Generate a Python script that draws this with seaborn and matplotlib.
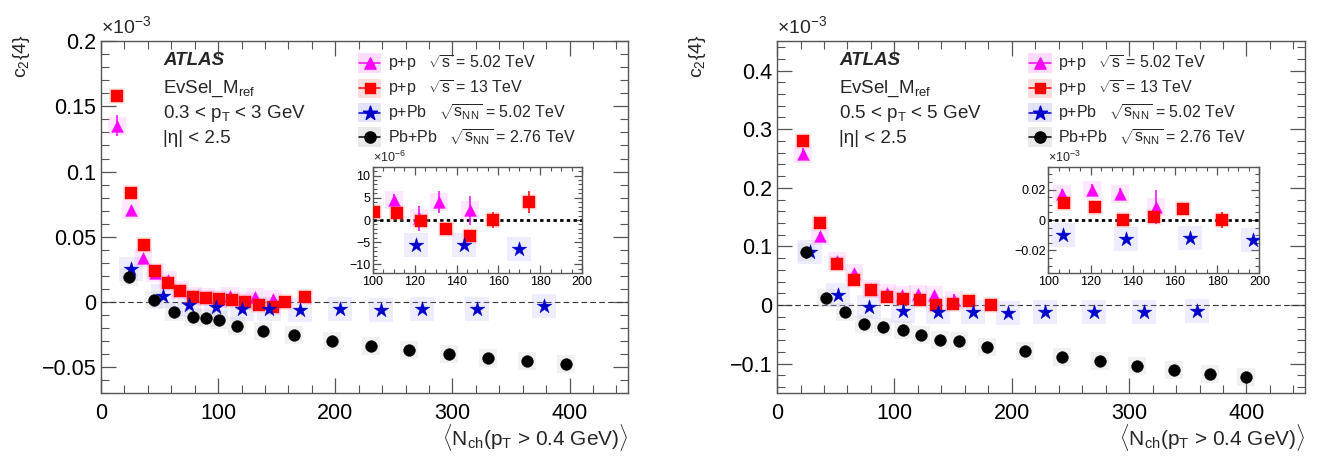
import numpy as np
import pandas as pd
import matplotlib
matplotlib.use("Agg")
import matplotlib.pyplot as plt
import seaborn as sns
from matplotlib.ticker import MultipleLocator, FuncFormatter
from matplotlib.patches import Rectangle

# ---------------------------------------------------------------- data
# c2{4} (units of 1e-3) versus <Nch(pT > 0.4 GeV)>

# 0.3 < pT < 3 GeV
pp5_L_x = [14, 25.5, 35.5, 46.5, 57, 67.5, 78.5, 89.5, 99.5, 110, 122, 131.5, 146.5]
pp5_L_y = [0.135, 0.0705, 0.0333, 0.022, 0.017, 0.009, 0.0045, 0.0035, 0.0022,
           0.0044, 0.0004, 0.0041, 0.0022]
pp5_L_e = [0.008, 0.003, 0.002, 0.0012, 0.001, 0.0008, 0.0006, 0.0006, 0.0012,
           0.0015, 0.0028, 0.0025, 0.0033]

pp13_L_x = [14, 25.5, 36.5, 46.5, 57, 67.5, 78.5, 89.5, 100.5, 111.5, 123, 135,
            146.5, 157.5, 174.5]
pp13_L_y = [0.158, 0.0835, 0.0435, 0.0237, 0.0148, 0.0082, 0.0036, 0.0032, 0.00185,
            0.0015, -0.0002, -0.0021, -0.0036, 0.0001, 0.0041]
pp13_L_e = [0.002, 0.0015, 0.001, 0.0008, 0.0006, 0.0005, 0.0005, 0.0005, 0.0008,
            0.0008, 0.0012, 0.001, 0.0012, 0.0018, 0.0025]

pPb_L_x = [25.5, 53, 75.5, 98.5, 120.5, 143.5, 170, 204, 239, 274, 321, 378]
pPb_L_y = [0.0253, 0.0045, -0.0026, -0.0036, -0.0056, -0.0056, -0.0065, -0.0056,
           -0.006, -0.0057, -0.0057, -0.0031]

PbPb_L_x = [23.5, 45.5, 62, 78.5, 89.5, 100.5, 116, 138.5, 164.5, 197.5, 230.5,
            263, 297, 330, 363.5, 397]
PbPb_L_y = [0.0188, 0.0018, -0.0079, -0.0117, -0.0125, -0.0143, -0.0184, -0.0222,
            -0.0256, -0.0299, -0.0335, -0.0371, -0.0402, -0.0428, -0.0454, -0.0479]

# 0.5 < pT < 5 GeV
pp5_R_x = [22, 37, 51.5, 66, 80, 93.5, 106.5, 120.5, 134, 151]
pp5_R_y = [0.258, 0.118, 0.076, 0.055, 0.027, 0.021, 0.0174, 0.0196, 0.0169, 0.0086]
pp5_R_e = [0.01, 0.006, 0.004, 0.005, 0.004, 0.003, 0.003, 0.004, 0.004, 0.011]

pp13_R_x = [22, 37, 51.5, 66, 80, 93.5, 107.5, 122, 135.5, 150, 164, 182.5]
pp13_R_y = [0.279, 0.140, 0.070, 0.043, 0.0255, 0.014, 0.011, 0.0085, 0.0, 0.002,
            0.0075, 0.0]
pp13_R_e = [0.004, 0.003, 0.002, 0.002, 0.002, 0.002, 0.002, 0.002, 0.002, 0.003,
            0.003, 0.005]

pPb_R_x = [28, 52, 78, 107, 137, 167, 197, 228, 270, 313, 358]
pPb_R_y = [0.090, 0.017, -0.004, -0.010, -0.0123, -0.012, -0.0134, -0.012, -0.011,
           -0.011, -0.010]

PbPb_R_x = [24.5, 41.5, 58, 74.5, 90.5, 107, 123, 139, 155, 179, 211, 243, 275,
            307, 338, 369, 400]
PbPb_R_y = [0.091, 0.012, -0.012, -0.033, -0.038, -0.042, -0.051, -0.059, -0.062,
            -0.072, -0.079, -0.089, -0.096, -0.103, -0.111, -0.117, -0.122]

legend_labels = {
    "pp5": r"p+p   $\sqrt{\rm s}$ = 5.02 TeV",
    "pp13": r"p+p   $\sqrt{\rm s}$ = 13 TeV",
    "pPb": r"p+Pb   $\sqrt{{\rm s}_{\rm NN}}$ = 5.02 TeV",
    "PbPb": r"Pb+Pb   $\sqrt{{\rm s}_{\rm NN}}$ = 2.76 TeV",
}

# ---------------------------------------------------------------- style
sns.set_theme(style="ticks")
plt.rcParams["font.family"] = ["Liberation Sans", "DejaVu Sans"]
plt.rcParams["mathtext.fontset"] = "custom"
plt.rcParams["mathtext.rm"] = "Liberation Sans"
plt.rcParams["mathtext.it"] = "Liberation Sans:italic"
plt.rcParams["mathtext.bf"] = "Liberation Sans:bold"
plt.rcParams["axes.unicode_minus"] = True

styles = {
    "pp5": dict(marker="^", color="#ff00ff", s=72, halo="#ff99ff"),
    "pp13": dict(marker="s", color="#ff0000", s=64, halo="#ffa0a0"),
    "pPb": dict(marker="*", color="#0000cc", s=125, halo="#b0b0ff"),
    "PbPb": dict(marker="o", color="#000000", s=72, halo="#c0c0c0"),
}
order = ["pp5", "pp13", "pPb", "PbPb"]


def num_fmt(v, pos):
    s = f"{v:.10g}"
    if s in ("-0", "0"):
        return "0"
    return s.replace("-", "\u2212")


def style_axes(ax, xmaj, xmin, ymaj, ymin, size, lmaj, lmin):
    ax.xaxis.set_major_locator(MultipleLocator(xmaj))
    ax.xaxis.set_minor_locator(MultipleLocator(xmin))
    ax.yaxis.set_major_locator(MultipleLocator(ymaj))
    ax.yaxis.set_minor_locator(MultipleLocator(ymin))
    ax.xaxis.set_major_formatter(FuncFormatter(num_fmt))
    ax.yaxis.set_major_formatter(FuncFormatter(num_fmt))
    ax.tick_params(which="both", direction="in", top=True, right=True,
                   colors="#555555", labelcolor="black", labelsize=size)
    ax.tick_params(which="major", length=lmaj, width=0.9)
    ax.tick_params(which="minor", length=lmin, width=0.8)
    for sp in ax.spines.values():
        sp.set_color("#555555")
        sp.set_linewidth(1.0)
    ax.set_xlabel("")
    ax.set_ylabel("")


def draw_series(ax, data, scale=1.0):
    for key in order:
        x, y, e = data[key]
        y = np.asarray(y) * scale
        st = styles[key]
        df = pd.DataFrame({"nch": x, "c24": y})
        # faint systematic box behind each point
        sns.scatterplot(data=df, x="nch", y="c24", ax=ax, marker="s",
                        s=st["s"] * 2.3, color=st["halo"], alpha=0.22,
                        linewidth=0, zorder=2, legend=False)
        if e is not None:
            ax.errorbar(x, y, yerr=np.asarray(e) * scale, fmt="none",
                        ecolor=st["color"], elinewidth=1.1, capsize=0, zorder=3)
        sns.scatterplot(data=df, x="nch", y="c24", ax=ax, marker=st["marker"],
                        s=st["s"], color=st["color"], edgecolor=st["color"],
                        linewidth=0.3, zorder=4, legend=False)


def add_legend(ax, xm, xt):
    rows = [0.938, 0.866, 0.797, 0.727]
    for key, yy in zip(order, rows):
        st = styles[key]
        ax.add_patch(Rectangle((xm - 0.022, yy - 0.028), 0.044, 0.056,
                               transform=ax.transAxes, color=st["halo"],
                               alpha=0.35, lw=0, zorder=5))
        ax.plot([xm - 0.02, xm + 0.02], [yy, yy], color=st["color"], lw=1.1,
                transform=ax.transAxes, zorder=6)
        ax.scatter([xm], [yy], marker=st["marker"], s=st["s"] * 0.9, color=st["color"],
                   transform=ax.transAxes, zorder=7)
        ax.text(xt, yy, legend_labels[key], transform=ax.transAxes, fontsize=11.5,
                va="center", ha="left", zorder=7)


def add_labels(ax, ptlabel):
    ax.text(0.118, 0.946, "ATLAS", transform=ax.transAxes, fontsize=13.5,
            fontweight="bold", style="italic", va="center", ha="left")
    ax.text(0.118, 0.866, r"EvSel_M$_{\rm ref}$", transform=ax.transAxes,
            fontsize=13.5, va="center", ha="left")
    ax.text(0.118, 0.795, ptlabel, transform=ax.transAxes, fontsize=13.5,
            va="center", ha="left")
    ax.text(0.118, 0.724, "|\u03b7| < 2.5", transform=ax.transAxes, fontsize=13.5,
            va="center", ha="left")
    ax.text(-0.15, 1.02, r"c$_{2}${4}", transform=ax.transAxes, fontsize=14,
            rotation=90, va="top", ha="center")
    ax.text(0.0, 1.012, r"$\times$10$^{\mathregular{-3}}$", transform=ax.transAxes,
            fontsize=14, va="bottom", ha="left")
    ax.text(1.0, -0.125,
            r"$\langle$N$_{\rm ch}$(p$_{\rm T}$ > 0.4 GeV)$\rangle$",
            transform=ax.transAxes, fontsize=15, va="center", ha="right")


fig = plt.figure(figsize=(13.17, 4.63), dpi=100)
fig.patch.set_facecolor("white")

panels = [
    dict(rect=[0.0767, 0.151, 0.4002, 0.760], ylim=(-0.07, 0.2), ymaj=0.05, ymin=0.01,
         data={"pp5": (pp5_L_x, pp5_L_y, pp5_L_e), "pp13": (pp13_L_x, pp13_L_y, pp13_L_e),
               "pPb": (pPb_L_x, pPb_L_y, None), "PbPb": (PbPb_L_x, PbPb_L_y, None)},
         pt=r"0.3 < p$_{\rm T}$ < 3 GeV", leg=(0.51, 0.545),
         inset=[0.2832, 0.4097, 0.1587, 0.2302], iscale=1000.0, iylim=(-12, 12),
         iymaj=5, iymin=1, iexp=r"$\times$10$^{\mathregular{-6}}$"),
    dict(rect=[0.5900, 0.151, 0.4010, 0.760], ylim=(-0.15, 0.45), ymaj=0.1, ymin=0.02,
         data={"pp5": (pp5_R_x, pp5_R_y, pp5_R_e), "pp13": (pp13_R_x, pp13_R_y, pp13_R_e),
               "pPb": (pPb_R_x, pPb_R_y, None), "PbPb": (PbPb_R_x, PbPb_R_y, None)},
         pt=r"0.5 < p$_{\rm T}$ < 5 GeV", leg=(0.498, 0.532),
         inset=[0.7960, 0.4097, 0.1602, 0.2302], iscale=1.0, iylim=(-0.035, 0.035),
         iymaj=0.02, iymin=0.005, iexp=r"$\times$10$^{\mathregular{-3}}$"),
]

for p in panels:
    ax = fig.add_axes(p["rect"])
    ax.set_facecolor("white")
    ax.axhline(0, color="#333333", lw=0.8, ls=(0, (5, 3)), zorder=1)
    draw_series(ax, p["data"])
    ax.set_xlim(0, 450)
    ax.set_ylim(*p["ylim"])
    style_axes(ax, 100, 20, p["ymaj"], p["ymin"], 15.5, 11, 5.5)
    ax.tick_params(axis="x", pad=7)
    add_labels(ax, p["pt"])
    add_legend(ax, *p["leg"])

    # zoomed view of 100 < <Nch> < 200
    ins = fig.add_axes(p["inset"])
    ins.set_facecolor("white")
    ins.axhline(0, color="black", lw=2.0, ls=(0, (1.2, 1.2)), zorder=1)
    sub = {}
    for key, (x, y, e) in p["data"].items():
        x = np.asarray(x)
        m = (x >= 100) & (x <= 200)
        sub[key] = (x[m], np.asarray(y)[m], None if e is None else np.asarray(e)[m])
    draw_series(ins, sub, scale=p["iscale"])
    ins.set_xlim(100, 200)
    ins.set_ylim(*p["iylim"])
    style_axes(ins, 20, 5, p["iymaj"], p["iymin"], 9, 6, 3)
    ins.tick_params(axis="both", pad=2)
    ins.text(0.0, 1.02, p["iexp"], transform=ins.transAxes, fontsize=9,
             va="bottom", ha="left")

fig.savefig("out.png", dpi=100, facecolor="white")
